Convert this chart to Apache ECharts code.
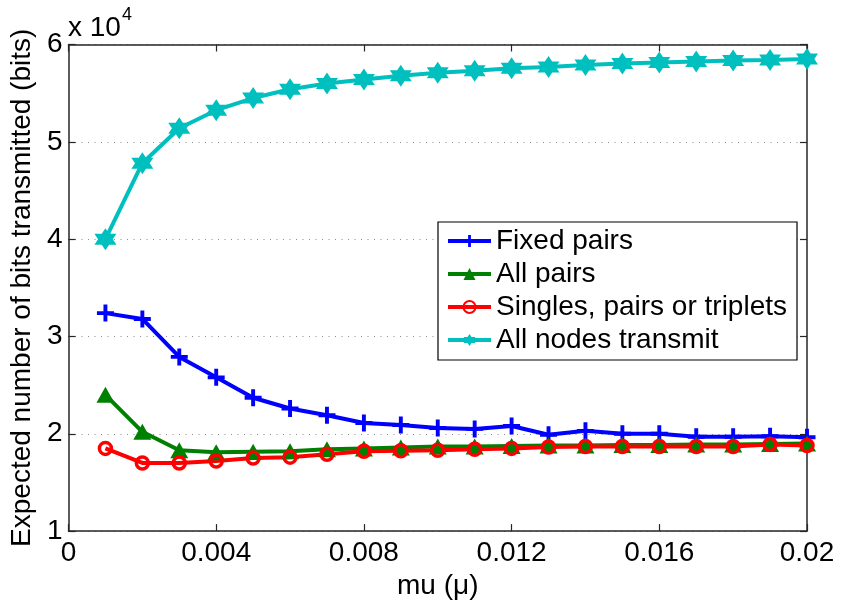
<!DOCTYPE html>
<html>
<head>
<meta charset="utf-8">
<title>Expected number of bits transmitted</title>
<script src="https://cdn.jsdelivr.net/npm/echarts@6/dist/echarts.min.js"></script>
<style>
  html, body { margin: 0; padding: 0; background: #fff; }
  #chart { width: 842px; height: 605px; }
</style>
</head>
<body>
<div id="chart"></div>
<script>
// mu values (x axis)
const mu = [0.001, 0.002, 0.003, 0.004, 0.005, 0.006, 0.007, 0.008, 0.009, 0.010,
            0.011, 0.012, 0.013, 0.014, 0.015, 0.016, 0.017, 0.018, 0.019, 0.020];

// Expected number of bits transmitted, per scheme
const fixedPairs = [32400, 31800, 27900, 25800, 23700, 22600, 21900, 21100, 20900, 20600,
                    20500, 20800, 19900, 20300, 20000, 20000, 19700, 19700, 19750, 19650];
const allPairs   = [24000, 20200, 18300, 18100, 18150, 18200, 18400, 18500, 18600, 18700,
                    18700, 18750, 18800, 18800, 18850, 18850, 18900, 18900, 18950, 19000];
const singlesPairsTriplets = [18500, 17000, 17000, 17200, 17500, 17600, 17900, 18200, 18250, 18300,
                              18400, 18500, 18650, 18700, 18700, 18700, 18700, 18700, 18900, 18800];
const allNodes   = [40000, 47800, 51400, 53250, 54500, 55400, 56000, 56400, 56800, 57100,
                    57300, 57550, 57700, 57900, 58050, 58150, 58250, 58350, 58400, 58500];

const seriesNames = ['Fixed pairs', 'All pairs', 'Singles, pairs or triplets', 'All nodes transmit'];

// x axis ticks and y axis range (in bits; labels show multiples of 10^4)
const xTicks = { min: 0, max: 0.02, interval: 0.004 };
const yTicks = { min: 10000, max: 60000, interval: 10000 };
const yScale = 10000;

const FONT = '"Liberation Sans", Arial, Helvetica, sans-serif';
const AXIS_COLOR = '#262626';

const hexagram = 'path://M0,-10 L2.887,-5 L8.66,-5 L5.774,0 L8.66,5 L2.887,5 L0,10 L-2.887,5 L-8.66,5 L-5.774,0 L-8.66,-5 L-2.887,-5 Z';
const plus = 'path://M-2.3,-10 L2.3,-10 L2.3,-2.3 L10,-2.3 L10,2.3 L2.3,2.3 L2.3,10 L-2.3,10 L-2.3,2.3 L-10,2.3 L-10,-2.3 L-2.3,-2.3 Z';

function pairs(values) {
  return mu.map((x, i) => [x, values[i]]);
}

function fmtX(v) {
  return String(parseFloat(v.toFixed(3)));
}

const chart = echarts.init(document.getElementById('chart'), null, { renderer: 'canvas' });

const axisLine = { show: true, onZero: false, lineStyle: { color: AXIS_COLOR, width: 1.5 } };
const axisTick = { show: true, inside: true, length: 7, lineStyle: { color: AXIS_COLOR, width: 1.2 } };

chart.setOption({
  animation: false,
  backgroundColor: '#fff',
  textStyle: { fontFamily: FONT },
  grid: { left: 68.5, right: 35, top: 44.5, bottom: 68, containLabel: false },
  xAxis: [
    {
      type: 'value', position: 'bottom',
      min: xTicks.min, max: xTicks.max, interval: xTicks.interval,
      name: 'mu (\u03bc)', nameLocation: 'middle', nameGap: 30,
      nameTextStyle: { fontSize: 28, color: '#000', fontFamily: FONT },
      axisLine: axisLine, axisTick: axisTick,
      axisLabel: { fontSize: 28, color: '#000', margin: 8, fontFamily: FONT, formatter: fmtX },
      splitLine: { show: false }
    },
    {
      type: 'value', position: 'top',
      min: xTicks.min, max: xTicks.max, interval: xTicks.interval,
      axisLine: axisLine, axisTick: axisTick,
      axisLabel: { show: false }, splitLine: { show: false }
    }
  ],
  yAxis: [
    {
      type: 'value', position: 'left',
      min: yTicks.min, max: yTicks.max, interval: yTicks.interval,
      name: 'Expected number of bits transmitted (bits)', nameLocation: 'middle', nameGap: 32,
      nameTextStyle: { fontSize: 28, color: '#000', fontFamily: FONT },
      axisLine: axisLine, axisTick: axisTick,
      axisLabel: { fontSize: 28, color: '#000', margin: 6, fontFamily: FONT,
                   formatter: v => String(Math.round(v / yScale)) },
      splitLine: {
        show: true,
        lineStyle: { color: '#8c8c8c', width: 1, type: [1, 5.5] }
      }
    },
    {
      type: 'value', position: 'right',
      min: yTicks.min, max: yTicks.max, interval: yTicks.interval,
      axisLine: axisLine, axisTick: axisTick,
      axisLabel: { show: false }, splitLine: { show: false }
    }
  ],
  legend: {
    orient: 'vertical',
    left: 438, top: 222,
    backgroundColor: '#fff',
    borderColor: '#000', borderWidth: 1.2, borderRadius: 0,
    padding: [5, 10, 6, 8],
    itemGap: 5, itemWidth: 43, itemHeight: 15,
    lineStyle: { width: 4 },
    textStyle: { fontSize: 28, color: '#000', fontFamily: FONT, lineHeight: 28 },
    data: seriesNames
  },
  graphic: [
    {
      type: 'text', left: 68, top: 14,
      style: { text: 'x 10', font: '28px ' + FONT, fill: '#000' }
    },
    {
      type: 'text', left: 122, top: 6,
      style: { text: '4', font: '18px ' + FONT, fill: '#000' }
    }
  ],
  series: [
    {
      name: seriesNames[0], type: 'line', data: pairs(fixedPairs),
      symbol: plus, symbolSize: 17,
      lineStyle: { color: '#0000ff', width: 4 },
      itemStyle: { color: '#0000ff' }
    },
    {
      name: seriesNames[1], type: 'line', data: pairs(allPairs),
      symbol: 'triangle', symbolSize: [18, 16],
      lineStyle: { color: '#008000', width: 4 },
      itemStyle: { color: '#008000' }
    },
    {
      name: seriesNames[2], type: 'line', data: pairs(singlesPairsTriplets),
      symbol: 'circle', symbolSize: 12,
      lineStyle: { color: '#ff0000', width: 4 },
      itemStyle: { color: 'rgba(0,0,0,0)', borderColor: '#ff0000', borderWidth: 3.5 }
    },
    {
      name: seriesNames[3], type: 'line', data: pairs(allNodes),
      symbol: hexagram, symbolSize: 22,
      lineStyle: { color: '#00bfbf', width: 4 },
      itemStyle: { color: '#00bfbf' }
    }
  ]
});
</script>
</body>
</html>
